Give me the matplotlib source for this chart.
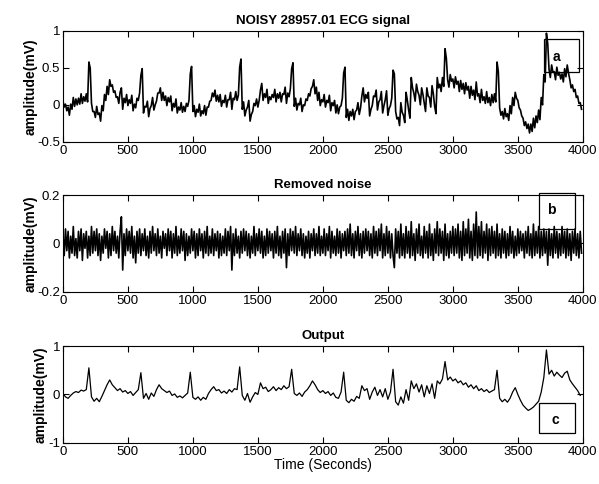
import numpy as np
import matplotlib
matplotlib.use("Agg")
import matplotlib.pyplot as plt
from matplotlib.patches import Rectangle

plt.rcParams['font.family'] = ['Liberation Sans', 'DejaVu Sans']

# filtered ECG (mV), one value every 20 s
output = [
    0.02, -0.05, -0.08, -0.02, 0.03, 0.06, 0.04, 0.09, 0.07, 0.10,
    0.55, -0.05, -0.14, -0.08, -0.15, -0.04, 0.08, 0.20, 0.30, 0.20,
    0.14, 0.08, 0.12, 0.05, 0.08, 0.02, 0.06, -0.02, 0.04, 0.10,
    0.45, -0.08, 0.02, -0.10, 0.03, -0.04, 0.10, 0.20, 0.12, 0.08,
    0.04, 0.07, -0.02, 0.01, -0.06, -0.03, -0.07, -0.02, 0.03, 0.46,
    -0.06, -0.10, -0.05, -0.12, -0.06, -0.10, 0.02, 0.10, 0.16, 0.08,
    0.10, 0.03, 0.07, 0.02, 0.10, 0.05, 0.12, 0.10, 0.57, -0.02,
    -0.12, 0.02, -0.16, -0.05, 0.04, 0.00, 0.24, 0.12, 0.15, 0.06,
    0.10, 0.16, 0.08, 0.14, 0.10, 0.18, 0.12, 0.16, 0.52, 0.02,
    -0.02, 0.03, -0.04, 0.05, 0.10, 0.18, 0.28, 0.20, 0.10, 0.04,
    0.08, 0.02, 0.06, -0.02, 0.03, -0.06, -0.08, 0.05, 0.46, -0.12,
    -0.17, -0.10, -0.14, -0.04, -0.08, 0.18, 0.08, 0.12, -0.10, 0.05,
    0.15, -0.02, 0.10, -0.05, 0.12, -0.10, 0.05, 0.52, -0.15, -0.22,
    -0.05, -0.18, 0.10, -0.12, 0.28, 0.12, 0.22, 0.05, 0.20, -0.05,
    0.18, 0.02, 0.22, -0.08, 0.28, 0.22, 0.32, 0.68, 0.30, 0.36,
    0.28, 0.32, 0.24, 0.28, 0.20, 0.24, 0.15, 0.20, 0.12, 0.18,
    0.08, 0.12, 0.06, 0.10, 0.04, 0.07, 0.10, 0.50, -0.08, -0.15,
    -0.10, -0.16, -0.08, 0.05, 0.14, 0.00, -0.12, -0.22, -0.28, -0.33,
    -0.30, -0.26, -0.20, -0.14, 0.05, 0.35, 0.92, 0.42, 0.50, 0.38,
    0.46, 0.40, 0.35, 0.44, 0.48, 0.30, 0.22, 0.15, 0.08, -0.02,
]

# removed noise (mV), one value every 10 s
noise = [
    0.04, -0.05, 0.06, -0.03, 0.05, -0.06, 0.03, -0.04, 0.07, -0.05, 0.02, -0.06, 0.05, -0.03, 0.06, -0.07, 0.04, -0.02, 0.05, -0.06,
    0.03, -0.05, 0.07, -0.04, 0.05, -0.03, 0.06, -0.05, 0.04, -0.07, 0.03, -0.04, 0.06, -0.02, 0.05, -0.06, 0.04, -0.05, 0.07, -0.03,
    0.05, -0.04, 0.03, -0.06, 0.05, 0.11, -0.11, 0.04, -0.05, 0.06, -0.03, 0.05, -0.04, 0.07, -0.06, 0.03, -0.08, 0.05, -0.04, 0.06,
    -0.05, 0.04, -0.03, 0.06, -0.05, 0.03, -0.06, 0.05, -0.04, 0.07, -0.03, 0.04, -0.05, 0.06, -0.04, 0.03, -0.06, 0.05, -0.02, 0.04,
    -0.05, 0.06, -0.03, 0.05, -0.06, 0.04, -0.04, 0.07, -0.05, 0.03, -0.04, 0.06, -0.03, 0.05, -0.07, 0.04, -0.05, 0.03, -0.04, 0.06,
    -0.03, 0.05, -0.06, 0.04, -0.05, 0.06, -0.03, 0.04, -0.06, 0.05, -0.04, 0.07, -0.05, 0.03, -0.04, 0.06, -0.05, 0.04, -0.03, 0.05,
    -0.06, 0.04, -0.05, 0.03, -0.04, 0.06, -0.05, 0.05, -0.03, 0.07, -0.11, 0.04, -0.05, 0.06, -0.04, 0.03, -0.06, 0.05, -0.04, 0.06,
    -0.03, 0.05, -0.05, 0.04, -0.06, 0.03, -0.04, 0.07, -0.05, 0.04, -0.03, 0.06, -0.04, 0.05, -0.06, 0.03, -0.05, 0.06, -0.04, 0.05,
    -0.03, 0.04, -0.06, 0.05, -0.04, 0.07, -0.05, 0.03, -0.06, 0.05, -0.04, 0.06, -0.10, 0.04, -0.05, 0.06, -0.03, 0.05, -0.04, 0.07,
    -0.05, 0.04, -0.03, 0.06, -0.05, 0.04, -0.06, 0.03, -0.04, 0.05, -0.06, 0.04, -0.03, 0.06, -0.05, 0.04, -0.04, 0.07, -0.05, 0.03,
    -0.04, 0.06, -0.05, 0.04, -0.03, 0.07, -0.06, 0.05, -0.04, 0.03, -0.05, 0.06, -0.04, 0.05, -0.06, 0.04, -0.03, 0.05, -0.05, 0.06,
    -0.04, 0.08, -0.05, 0.04, -0.06, 0.05, -0.03, 0.07, -0.05, 0.04, -0.06, 0.05, -0.04, 0.06, -0.03, 0.05, -0.05, 0.04, -0.06, 0.07,
    -0.04, 0.05, -0.05, 0.06, -0.03, 0.08, -0.06, 0.04, -0.05, 0.07, -0.04, 0.05, -0.06, 0.04, -0.05, -0.10, 0.06, -0.04, 0.05, -0.06,
    0.08, -0.05, 0.04, -0.06, 0.07, -0.04, 0.05, -0.06, 0.09, -0.05, 0.04, -0.07, 0.06, -0.04, 0.08, -0.05, 0.03, -0.06, 0.07, -0.04,
    0.05, -0.06, 0.08, -0.05, 0.04, -0.07, 0.06, -0.04, 0.09, -0.05, 0.06, -0.04, 0.05, -0.07, 0.08, -0.05, 0.04, -0.06, 0.05, -0.04,
    0.07, -0.05, 0.06, -0.04, 0.08, -0.06, 0.05, -0.07, 0.09, -0.05, 0.06, -0.04, 0.10, -0.06, 0.05, -0.07, 0.08, -0.05, 0.13, -0.06,
    0.07, -0.05, 0.09, -0.06, 0.05, -0.04, 0.08, -0.07, 0.06, -0.05, 0.07, -0.04, 0.05, -0.06, 0.08, -0.05, 0.04, -0.06, 0.06, -0.04,
    0.05, -0.06, 0.04, -0.05, 0.07, -0.04, 0.05, -0.06, 0.03, -0.05, 0.06, -0.04, 0.05, -0.03, 0.04, -0.06, 0.05, -0.04, 0.07, -0.05,
    0.04, -0.06, 0.08, -0.05, 0.05, -0.04, 0.07, -0.06, 0.05, -0.05, 0.06, -0.04, 0.05, -0.09, 0.06, -0.05, 0.04, -0.06, 0.07, -0.04,
    0.05, -0.06, 0.04, -0.05, 0.07, -0.04, 0.05, -0.06, 0.06, -0.05, 0.04, -0.07, 0.05, -0.04, 0.06, -0.05, 0.04, -0.06, 0.05, -0.04,
]

titles = ["NOISY 28957.01 ECG signal", "Removed noise", "Output"]
xticks = [0, 500, 1000, 1500, 2000, 2500, 3000, 3500, 4000]
yticks = [[1, 0.5, 0, -0.5], [0.2, 0, -0.2], [1, 0, -1]]
ytick_labels = [["1", "0.5", "0", "-0.5"], ["0.2", "0", "-0.2"], ["1", "0", "-1"]]
ylims = [(-0.5, 1), (-0.2, 0.2), (-1, 1)]

t_out = np.arange(len(output)) * 20
t_noise = np.arange(len(noise)) * 10
# noisy = clean + removed noise
noisy = np.repeat(output, 2) + np.array(noise)

fig = plt.figure(figsize=(5.99, 4.84), dpi=100)
rects = [[0.105, 0.707, 0.868, 0.229],
         [0.105, 0.397, 0.868, 0.200],
         [0.105, 0.085, 0.868, 0.200]]
axes = [fig.add_axes(r) for r in rects]

axes[0].plot(t_noise, noisy, color='k', lw=1.2)
axes[1].plot(t_noise, noise, color='k', lw=1.2)
axes[2].plot(t_out, output, color='k', lw=0.9)

for i, ax in enumerate(axes):
    ax.set_xlim(0, 4000)
    ax.set_ylim(*ylims[i])
    ax.set_xticks(xticks)
    ax.set_xticklabels([str(x) for x in xticks], fontsize=9.5)
    ax.set_yticks(yticks[i])
    ax.set_yticklabels(ytick_labels[i], fontsize=9.5)
    ax.tick_params(direction='in', top=True, right=True, length=4, pad=2)
    ax.set_title(titles[i], fontsize=9.5, fontweight='bold', pad=5)
    ax.set_ylabel("amplitude(mV)", fontsize=10, fontweight='bold', labelpad=0)
    for s in ax.spines.values():
        s.set_linewidth(0.8)

axes[2].set_xlabel("Time (Seconds)", fontsize=10, labelpad=0)

# marker boxes
boxes = [(3700, 0.45, 270, 0.44, 'a', 3800, 0.65),
         (3660, 0.06, 276, 0.15, 'b', 3760, 0.14),
         (3660, -0.79, 276, 0.61, 'c', 3790, -0.52)]
for ax, (x0, y0, w, h, lab, tx, ty) in zip(axes, boxes):
    ax.add_patch(Rectangle((x0, y0), w, h, fill=False, ec='k', lw=0.9, clip_on=False))
    ax.text(tx, ty, lab, fontsize=10, fontweight='bold',
            ha='center', va='center')

fig.savefig("out.png", dpi=100)
